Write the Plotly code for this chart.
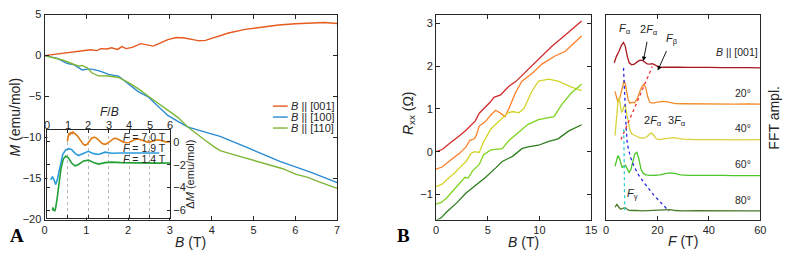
import plotly.graph_objects as go

W, H = 789, 257
def PX(x): return x / W
def PY(y): return 1 - y / H

FONT = "Liberation Sans"
INK = "#262626"

# ---------------- Panel A: magnetization ----------------
B_001 = [0, 0.3, 0.6, 0.9, 1.1, 1.25, 1.35, 1.5, 1.6, 1.75, 1.85, 1.95, 2.1, 2.3, 2.45, 2.6, 2.75, 2.95,
         3.15, 3.35, 3.55, 3.7, 3.85, 4.1, 4.4, 4.8, 5.2, 5.6, 6.0, 6.4, 6.7, 6.85, 7.0]
M_001 = [0, 0.2, 0.4, 0.6, 0.7, 0.6, 0.85, 0.8, 0.95, 0.75, 1.1, 0.85, 1.0, 1.45, 1.3, 1.15, 1.5, 1.95,
         2.2, 2.15, 1.95, 1.8, 1.85, 2.3, 2.75, 3.2, 3.5, 3.72, 3.88, 3.98, 4.03, 3.98, 3.92]

B_100 = [0, 0.31, 0.5, 0.58, 0.7, 0.82, 0.9, 1.02, 1.13, 1.33, 1.53, 1.77, 2.0, 2.24, 2.47, 2.71, 2.95,
         3.18, 3.42, 3.66, 3.89, 4.2, 4.84, 5.63, 6.41, 7.0]
M_100 = [0, -0.35, -0.85, -1.0, -1.1, -1.5, -1.75, -1.65, -1.65, -1.9, -2.3, -2.5, -3.45, -4.4, -5.0,
         -6.1, -7.3, -8.0, -8.7, -9.07, -9.4, -9.85, -11.2, -12.9, -14.3, -15.5]

B_110 = [0, 0.43, 0.66, 0.82, 0.9, 1.02, 1.13, 1.29, 1.53, 1.77, 2.0, 2.24, 2.55, 2.87, 3.18, 3.42, 3.58,
         3.81, 4.05, 4.2, 4.5, 4.84, 5.1, 5.39, 5.7, 6.02, 6.3, 6.57, 6.8, 7.0]
M_110 = [0, -0.54, -1.0, -1.3, -1.2, -1.5, -2.1, -2.48, -2.5, -2.67, -3.26, -4.03, -5.2, -6.36, -7.5,
         -8.69, -9.27, -10.2, -11.1, -11.6, -12.05, -12.55, -12.85, -13.3, -13.8, -14.5, -14.85, -15.4, -15.8, -16.2]

# inset: Delta M vs F/B
FB_ticks = [0, 1, 2, 3, 4, 5, 6]
FB_7 = [0.97, 1.0, 1.05, 1.1, 1.15, 1.2, 1.25, 1.3, 1.36, 1.45, 1.55, 1.65, 1.75, 1.85, 1.95, 2.05, 2.15,
        2.25, 2.35, 2.45, 2.55, 2.65, 2.75, 2.85, 2.95, 3.05, 3.15, 3.25, 3.35, 3.45, 3.55, 3.7, 3.85, 4.0,
        4.15, 4.3, 4.45, 4.6, 4.75, 4.9, 5.05, 5.2, 5.35, 5.5, 5.65, 5.8, 6.0]
dM_7 = [0.05, 0.5, 0.75, 0.65, 0.85, 0.7, 0.9, 0.75, 0.7, 0.55, 0.3, 0.05, -0.2, -0.3, -0.2, 0.05, 0.3,
        0.4, 0.38, 0.25, 0.05, -0.1, -0.2, -0.2, -0.1, 0.05, 0.2, 0.3, 0.32, 0.25, 0.15, 0.0, -0.08, -0.05,
        0.1, 0.22, 0.25, 0.18, 0.05, -0.02, 0.0, 0.1, 0.18, 0.15, 0.05, 0.0, 0.02]
FB_19 = [0.16, 0.24, 0.32, 0.4, 0.48, 0.56, 0.64, 0.75, 0.89, 1.05, 1.2, 1.36, 1.52, 1.77, 2.0, 2.26, 2.5,
         2.82, 3.14, 3.6, 4.25, 4.9, 5.47]
dM_19 = [-3.33, -3.06, -3.33, -3.75, -3.33, -2.64, -1.8, -1.1, -0.7, -0.6, -0.7, -1.03, -1.2, -0.97, -0.83,
         -1.03, -1.1, -0.9, -1.0, -0.97, -1.0, -0.97, -0.97]
FB_14 = [0.24, 0.27, 0.29, 0.32, 0.35, 0.4, 0.48, 0.56, 0.66, 0.77, 0.89, 1.02, 1.18, 1.34, 1.5, 1.77, 2.0,
         2.26, 2.5, 2.82, 3.14, 3.6, 4.2, 4.8, 5.4, 6.0]
dM_14 = [-5.97, -5.75, -6.05, -5.9, -6.1, -5.8, -4.86, -3.47, -2.36, -1.53, -1.25, -1.39, -1.86, -2.1, -2.0,
         -1.67, -1.6, -1.8, -1.95, -1.82, -1.78, -1.82, -1.85, -1.84, -1.86, -1.85]

# ---------------- Panel B: Rxx vs B ----------------
B_r0 = [0, 0.6, 1.3, 1.8, 2.27, 2.9, 3.3, 3.54, 3.8, 4.18, 4.8, 5.2, 5.6, 6.25, 6.6, 7.05, 7.7, 8.65, 9.92,
        11.2, 12.5, 14.07]
R_r0 = [0, 0.05, 0.19, 0.28, 0.375, 0.5, 0.6, 0.64, 0.72, 0.9, 1.05, 1.15, 1.27, 1.33, 1.42, 1.53, 1.64,
        1.87, 2.17, 2.47, 2.73, 3.06]
B_r20 = [0, 0.6, 1.3, 1.8, 2.27, 2.9, 3.25, 3.7, 3.9, 4.18, 4.8, 5.3, 5.77, 6.25, 6.67, 7.05, 7.7, 8.3,
         9.28, 10.24, 11.5, 12.5, 14.07]
R_r20 = [-0.41, -0.36, -0.22, -0.12, -0.04, 0.11, 0.26, 0.3, 0.38, 0.6, 0.71, 0.86, 0.97, 0.9, 0.82, 1.01,
         1.39, 1.65, 1.83, 2.05, 2.24, 2.35, 2.71]
B_r40 = [0, 0.6, 1.3, 1.8, 2.27, 2.9, 3.4, 3.7, 4.18, 4.6, 5.3, 6.1, 6.9, 7.4, 8.0, 8.5, 9.28, 9.9, 10.9,
         11.8, 13.1, 14.07]
R_r40 = [-0.82, -0.76, -0.6, -0.5, -0.38, -0.23, -0.04, 0.0, -0.02, 0.23, 0.53, 0.71, 0.9, 0.94, 0.91,
         1.01, 1.42, 1.65, 1.7, 1.65, 1.51, 1.43]
B_r60 = [0, 0.5, 1.0, 2.0, 2.8, 3.1, 3.54, 4.18, 4.6, 5.3, 6.1, 6.4, 7.05, 8.0, 8.9, 9.9, 10.9, 11.4, 12.2,
         13.1, 14.07]
R_r60 = [-1.23, -1.19, -1.09, -0.82, -0.6, -0.62, -0.45, -0.3, -0.07, 0.04, 0.06, 0.07, 0.26, 0.45, 0.64,
         0.75, 0.79, 0.82, 1.12, 1.38, 1.58]
B_r80 = [0, 0.5, 1.0, 2.0, 2.9, 3.86, 4.8, 5.77, 6.4, 7.4, 8.3, 8.9, 9.9, 10.9, 11.8, 12.8, 14.07]
R_r80 = [-1.61, -1.55, -1.42, -1.2, -0.97, -0.78, -0.6, -0.38, -0.23, -0.11, 0.07, 0.11, 0.15, 0.24, 0.3,
         0.48, 0.63]

# ---------------- Panel B: FFT amplitude (offset) ----------------
F_a0 = [3.2, 4.0, 5.0, 6.0, 6.8, 7.5, 8.3, 9.0, 10.0, 11.0, 12.0, 13.0, 14.0, 15.0, 16.0, 17.0, 18.0, 19.0,
        20.0, 21.0, 22.5, 25, 28, 32, 36, 40, 45, 50, 55, 60]
A_a0 = [7.65, 7.95, 8.2, 8.5, 8.64, 8.45, 7.95, 7.65, 7.55, 7.58, 7.68, 7.76, 7.78, 7.7, 7.6, 7.58, 7.6,
        7.55, 7.47, 7.42, 7.44, 7.45, 7.43, 7.42, 7.43, 7.42, 7.41, 7.42, 7.41, 7.40]
F_a20 = [3.5, 4.0, 4.6, 5.3, 6.0, 6.6, 7.0, 7.5, 8.0, 8.6, 9.2, 10.0, 11.0, 12.0, 13.0, 14.0, 14.7, 15.4,
         16.2, 17.0, 18.0, 19.0, 20.5, 22, 23.5, 25, 27, 30, 35, 40, 45, 50, 55, 60]
A_a20 = [6.25, 6.0, 5.72, 5.9, 6.3, 6.7, 6.78, 6.6, 6.2, 5.85, 5.68, 5.72, 5.7, 5.85, 6.2, 6.5, 6.6, 6.45,
         6.0, 5.72, 5.68, 5.7, 5.72, 5.76, 5.75, 5.7, 5.66, 5.65, 5.64, 5.65, 5.64, 5.63, 5.64, 5.63]
F_a40 = [3.5, 3.9, 4.3, 4.7, 5.1, 5.5, 6.0, 6.5, 7.0, 7.5, 8.0, 8.6, 9.3, 10.0, 11.0, 12.0, 13.0, 14.0,
         15.0, 16.0, 17.0, 17.8, 18.6, 19.5, 20.5, 22, 24, 26, 28, 30, 35, 40, 45, 50, 55, 60]
A_a40 = [4.1, 4.7, 5.4, 5.85, 5.95, 5.7, 5.25, 5.3, 5.55, 5.55, 5.2, 4.7, 4.35, 4.18, 4.1, 4.05, 4.0, 3.97,
         3.98, 4.05, 4.18, 4.22, 4.1, 3.95, 3.9, 3.93, 3.98, 4.0, 3.96, 3.92, 3.9, 3.91, 3.9, 3.89, 3.9, 3.9]
F_a60 = [3.5, 4.0, 4.6, 5.2, 5.8, 6.3, 7.0, 7.6, 8.3, 9.0, 9.7, 10.4, 11.2, 12.0, 12.8, 13.6, 14.5, 15.5,
         17, 19, 21, 23, 25, 27, 29, 32, 36, 40, 45, 50, 55, 60]
A_a60 = [2.6, 2.9, 3.12, 3.0, 2.65, 2.52, 2.62, 2.65, 2.45, 2.3, 2.45, 2.85, 3.2, 3.28, 2.95, 2.45, 2.25,
         2.18, 2.15, 2.16, 2.18, 2.24, 2.28, 2.24, 2.18, 2.15, 2.16, 2.15, 2.15, 2.14, 2.15, 2.14]
F_a80 = [3.5, 4.2, 5.0, 5.7, 6.5, 7.4, 8.2, 9.0, 10, 12, 14, 16, 18, 20, 22, 23.5, 25, 27, 30, 35, 40, 45,
         50, 55, 60]
A_a80 = [0.6, 0.74, 0.6, 0.5, 0.55, 0.58, 0.5, 0.45, 0.44, 0.45, 0.42, 0.43, 0.44, 0.45, 0.48, 0.5, 0.48,
         0.44, 0.42, 0.43, 0.42, 0.42, 0.43, 0.42, 0.42]

# guide lines tracking the peaks
F_alpha = [6.8, 7.3, 7.8, 8.3, 9.5, 10.9, 12.7, 14.7, 16.6, 18.6, 21.5, 24.4]
A_alpha = [7.4, 5.5, 4.5, 3.67, 3.05, 2.59, 2.17, 1.81, 1.48, 1.19, 0.8, 0.42]
F_beta = [5.8, 18.0]
A_beta = [3.9, 7.47]
F_gamma = [6.9, 7.3]
A_gamma = [4.4, 0.3]

fig = go.Figure()

def line(x, y, color, xa, ya, width=1.4, dash=None):
    fig.add_trace(go.Scatter(x=x, y=y, mode="lines", xaxis=xa, yaxis=ya, showlegend=False,
                             hoverinfo="skip",
                             line=dict(color=color, width=width, dash=dash)))

# panel A main
line(B_001, M_001, "#E65A1E", "x", "y")
line(B_100, M_100, "#2A8BD2", "x", "y")
line(B_110, M_110, "#7DB536", "x", "y")
# inset
line(FB_7, dM_7, "#E07A14", "x2", "y2", 1.6)
line(FB_19, dM_19, "#2B9BDB", "x2", "y2", 1.6)
line(FB_14, dM_14, "#21A035", "x2", "y2", 1.6)
# panel B Rxx
line(B_r0, R_r0, "#D42A2A", "x3", "y3", 1.3)
line(B_r20, R_r20, "#FF7F27", "x3", "y3", 1.3)
line(B_r40, R_r40, "#D4D42A", "x3", "y3", 1.3)
line(B_r60, R_r60, "#7ED321", "x3", "y3", 1.3)
line(B_r80, R_r80, "#2E7D1E", "x3", "y3", 1.3)
# FFT
line(F_a0, A_a0, "#A8181E", "x4", "y4", 1.3)
line(F_a20, A_a20, "#F28C28", "x4", "y4", 1.3)
line(F_a40, A_a40, "#D8D23A", "x4", "y4", 1.3)
line(F_a60, A_a60, "#4CC72A", "x4", "y4", 1.3)
line(F_a80, A_a80, "#4A7A2A", "x4", "y4", 1.3)
line(F_alpha, A_alpha, "#2626E6", "x4", "y4", 1.3, "dot")
line(F_beta, A_beta, "#F03030", "x4", "y4", 1.3, "dot")
line(F_gamma, A_gamma, "#2AD0D0", "x4", "y4", 1.3, "dot")

tickfont = dict(family=FONT, size=11, color=INK)
def ax(**kw):
    d = dict(showline=True, linecolor=INK, linewidth=1, mirror="ticks", ticks="inside", ticklen=4,
             tickcolor=INK, tickfont=tickfont, showgrid=False, zeroline=False, fixedrange=True)
    d.update(kw)
    return d

fig.update_layout(
    width=W, height=H, margin=dict(l=0, r=0, t=0, b=0), autosize=False,
    paper_bgcolor="white", plot_bgcolor="white", showlegend=False,
    xaxis=ax(domain=[PX(42), PX(338)], range=[0, 7], tickvals=[0, 1, 2, 3, 4, 5, 6, 7], anchor="y"),
    yaxis=ax(domain=[PY(224), PY(9)], range=[-20, 5], tickvals=[-20, -15, -10, -5, 0, 5],
             ticktext=["\u221220", "\u221215", "\u221210", "\u22125", "0", "5"], anchor="x"),
    xaxis2=ax(domain=[PX(45), PX(169)], range=[0, 6], tickvals=FB_ticks, side="top", showticklabels=False,
              anchor="y2", showgrid=True, gridcolor="#b8b8b8", griddash="dot", gridwidth=1, ticklen=3),
    yaxis2=ax(domain=[PY(222), PY(130)], range=[-6.65, 1.05], tickvals=[-6, -4, -2, 0],
              ticktext=["\u22126", "\u22124", "\u22122", "0"], side="right", anchor="x2", ticklen=3),
    xaxis3=ax(domain=[PX(438), PX(595)], range=[0, 15], tickvals=[0, 5, 10, 15], anchor="y3"),
    yaxis3=ax(domain=[PY(224), PY(9)], range=[-1.59, 3.21], tickvals=[-1, 0, 1, 2, 3],
              ticktext=["\u22121", "0", "1", "2", "3"], anchor="x3"),
    xaxis4=ax(domain=[PX(610), PX(766)], range=[0, 60], tickvals=[0, 20, 40, 60], anchor="y4"),
    yaxis4=ax(domain=[PY(224), PY(9)], range=[0, 10], ticks="", showticklabels=False, anchor="x4",
              mirror=True),
)

ann = []
def txt(x, y, s, size=11, angle=0, xanchor="center", family=FONT, color=INK):
    ann.append(dict(x=PX(x), y=PY(y), xref="paper", yref="paper", text=s, showarrow=False,
                    textangle=angle, xanchor=xanchor, yanchor="middle",
                    font=dict(family=family, size=size, color=color)))

# inset top tick labels, placed on the inset's own x scale
for v in FB_ticks:
    ann.append(dict(x=v, xref="x2", y=PY(125), yref="paper", text=str(v), showarrow=False,
                    xanchor="center", yanchor="middle", font=dict(family=FONT, size=11, color=INK)))

# axis titles
txt(12, 116, "<i>M</i> (emu/mol)", 14, -90)
txt(190, 248, "<i>B</i> (T)", 14)
txt(108, 111, "<i>F</i>/<i>B</i>", 12)
txt(189, 176, "\u0394<i>M</i> (emu/mol)", 11, -90)
txt(410, 112, "<i>R</i><sub>xx</sub> (\u03a9)", 14, -90)
txt(527, 248, "<i>B</i> (T)", 14)
txt(688, 247, "<i>F</i> (T)", 14)
txt(779, 117, "FFT ampl.", 14, -90)
# panel letters
txt(14, 241, "<b>A</b>", 19, family="Liberation Serif", color="black")
txt(405, 241, "<b>B</b>", 19, family="Liberation Serif", color="black")
# inset frequency labels
txt(167, 137, "<i>F</i> = 7.0 T", 10.5, xanchor="right")
txt(167, 149, "<i>F</i> = 1.9 T", 10.5, xanchor="right")
txt(167, 160, "<i>F</i> = 1.4 T", 10.5, xanchor="right")
# legend (manual)
leg = [("#E65A1E", "[001]", 105), ("#2A8BD2", "[100]", 116.5), ("#7DB536", "[110]", 128)]
shapes = []
for c, lab, yy in leg:
    shapes.append(dict(type="line", xref="paper", yref="paper", x0=PX(273), x1=PX(288), y0=PY(yy),
                       y1=PY(yy), line=dict(color=c, width=1.4)))
    txt(289, yy, "<i>B</i> || " + lab, 11, xanchor="left")
# FFT labels
txt(629, 24, "<i>F</i><sub>\u03b1</sub>", 11)
txt(653, 25, "2<i>F</i><sub>\u03b1</sub>", 11)
txt(677, 35, "<i>F</i><sub>\u03b2</sub>", 11)
txt(742, 48, "<i>B</i> || [001]", 10.5)
txt(749, 91, "20\u00b0", 10.5)
txt(657, 121, "2<i>F</i><sub>\u03b1</sub>", 11)
txt(682, 121, "3<i>F</i><sub>\u03b1</sub>", 11)
txt(749, 128, "40\u00b0", 10.5)
txt(749, 166, "60\u00b0", 10.5)
txt(749, 204, "80\u00b0", 10.5)
txt(637, 197, "<i>F</i><sub>\u03b3</sub>", 11)
# arrows
for hx, hy, tx, ty in [(647.7, 57.7, 651.7, 37.0), (662.3, 67.7, 671.7, 46.7)]:
    ann.append(dict(x=PX(hx), y=PY(hy), xref="paper", yref="paper", text="", showarrow=True,
                    ax=tx - hx, ay=ty - hy, arrowhead=2, arrowsize=1, arrowwidth=0.9, arrowcolor="black"))

fig.update_layout(annotations=ann, shapes=shapes)
fig.write_html("out.html", config={"displayModeBar": False},
               post_script="document.body.style.margin='0';document.body.style.overflow='hidden';")
